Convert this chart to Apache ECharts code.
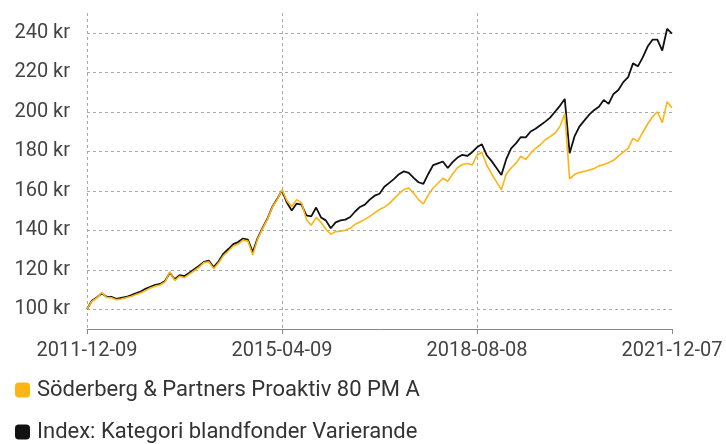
<!DOCTYPE html>
<html>
<head>
<meta charset="utf-8">
<script src="https://cdn.jsdelivr.net/npm/echarts@6/dist/echarts.min.js"></script>
<style>
  html, body { margin: 0; padding: 0; background: #fff; }
  #chart { width: 726px; height: 444px; }
</style>
</head>
<body>
<div id="chart"></div>
<script>
// månadsvisa datum (x-axel)
const dates = [
  '2011-12-09',
  '2012-01-09','2012-02-09','2012-03-09','2012-04-09','2012-05-09','2012-06-09','2012-07-09','2012-08-09','2012-09-09','2012-10-09','2012-11-09','2012-12-09',
  '2013-01-09','2013-02-09','2013-03-09','2013-04-09','2013-05-09','2013-06-09','2013-07-09','2013-08-09','2013-09-09','2013-10-09','2013-11-09','2013-12-09',
  '2014-01-09','2014-02-09','2014-03-09','2014-04-09','2014-05-09','2014-06-09','2014-07-09','2014-08-09','2014-09-09','2014-10-09','2014-11-09','2014-12-09',
  '2015-01-09','2015-02-09','2015-03-09','2015-04-09','2015-05-09','2015-06-09','2015-07-09','2015-08-09','2015-09-09','2015-10-09','2015-11-09','2015-12-09',
  '2016-01-09','2016-02-09','2016-03-09','2016-04-09','2016-05-09','2016-06-09','2016-07-09','2016-08-09','2016-09-09','2016-10-09','2016-11-09','2016-12-09',
  '2017-01-09','2017-02-09','2017-03-09','2017-04-09','2017-05-09','2017-06-09','2017-07-09','2017-08-09','2017-09-09','2017-10-09','2017-11-09','2017-12-09',
  '2018-01-09','2018-02-09','2018-03-09','2018-04-09','2018-05-09','2018-06-09','2018-07-09','2018-08-08','2018-09-09','2018-10-09','2018-11-09','2018-12-09',
  '2019-01-09','2019-02-09','2019-03-09','2019-04-09','2019-05-09','2019-06-09','2019-07-09','2019-08-09','2019-09-09','2019-10-09','2019-11-09','2019-12-09',
  '2020-01-09','2020-02-09','2020-03-09','2020-04-09','2020-05-09','2020-06-09','2020-07-09','2020-08-09','2020-09-09','2020-10-09','2020-11-09','2020-12-09',
  '2021-01-09','2021-02-09','2021-03-09','2021-04-09','2021-05-09','2021-06-09','2021-07-09','2021-08-09','2021-09-09','2021-10-09','2021-11-09','2021-12-07'
]

// Söderberg & Partners Proaktiv 80 PM A
const fundValues = [
  100, 104, 105.7, 108.5, 106, 105.8, 104.8, 105.2, 105.8, 106.5, 107.4, 108.2, 109.5,
  110.8, 111.7, 112.3, 113.8, 119, 114.5, 116.7, 116, 117.8, 119.5, 121.3, 123.6,
  124, 120.5, 123.5, 127.2, 129.5, 132, 133, 135, 134.5, 127.5, 135.5, 140.8,
  145.5, 151.5, 155.5, 160.5, 155, 152, 155.5, 154, 145.5, 142.5, 146.5, 144,
  140.5, 138, 139.3, 139.5, 140, 141, 143, 144.2, 145.5, 147, 148.8, 150.5,
  151.7, 153.5, 156, 158.5, 160.6, 161.4, 158.8, 155.5, 153.3, 157.8, 161.4, 163.8,
  166.3, 164.8, 168.5, 171.7, 173.3, 173.8, 173, 178, 179.5, 173, 168.5, 164.5,
  160.5, 168.5, 171.5, 174, 177.5, 175.8, 179, 181.5, 183.3, 185.8, 187.4, 189.1,
  192.5, 199, 166, 168.2, 169.2, 169.8, 170.5, 171.2, 172.6, 173.3, 174.2, 175.4,
  177.5, 179.5, 181.5, 186.5, 185, 189.5, 193.8, 197.5, 200, 194.5, 205, 202
]

// Index: Kategori blandfonder Varierande
const indexValues = [
  100, 104.3, 106, 108, 106.4, 106.3, 105.3, 105.8, 106.2, 107, 108, 109, 110.3,
  111.3, 112.3, 112.8, 114.3, 118.5, 115.2, 117.3, 116.8, 118.5, 120.3, 122, 124,
  124.6, 121.3, 124.3, 128.2, 130.5, 133, 134, 135.8, 135.3, 129, 136, 141.2,
  145.8, 151.8, 155.8, 160.2, 154, 150, 153.5, 153, 147.5, 147, 151.5, 146.5,
  145, 141, 144, 145, 145.4, 146.7, 149.5, 151.8, 153, 155.5, 157.5, 158.5,
  162, 164, 166, 168.4, 169.8, 169, 166.5, 164.3, 163.5, 168.5, 173, 173.9,
  174.8, 171.5, 174.5, 176.8, 178.2, 177.6, 179.5, 182, 183.5, 178, 175, 171.5,
  168, 176, 181.5, 184, 187.2, 187, 190, 191.4, 193.2, 195, 197, 200,
  203, 206.5, 179, 187.5, 192.5, 195.5, 198.5, 200.8, 202.5, 206, 204, 209,
  211, 215, 217.5, 224.5, 223, 227.5, 233, 236.5, 236.5, 231, 242, 239.5
]

const yTicks = [100, 120, 140, 160, 180, 200, 220, 240]
const xTickLabels = ['2011-12-09', '2015-04-09', '2018-08-08', '2021-12-07']

const fundName = 'Söderberg & Partners Proaktiv 80 PM A'
const indexName = 'Index: Kategori blandfonder Varierande'

const chart = echarts.init(document.getElementById('chart'), null, { renderer: 'canvas' })

const textFont = 'Roboto, "Noto Sans", sans-serif'

// en legend per rad, så att de hamnar under varandra
const legendBase = {
  orient: 'vertical',
  left: 15,
  padding: 0,
  itemWidth: 15,
  itemHeight: 15,
  icon: 'roundRect',
  textStyle: { fontSize: 22, color: '#333', fontFamily: textFont, padding: [0, 0, 0, 2] }
}

const option = {
  animation: false,
  grid: { left: 87, right: 54, top: 13, bottom: 115, containLabel: false },
  legend: [
    { ...legendBase, top: 379, data: [fundName] },
    { ...legendBase, top: 421, data: [indexName] }
  ],
  xAxis: {
    type: 'category',
    data: dates,
    boundaryGap: false,
    axisLine: { lineStyle: { color: '#888', width: 1 } },
    axisTick: {
      alignWithLabel: true,
      length: 5,
      lineStyle: { color: '#888' },
      interval: (i) => i % 40 === 0
    },
    axisLabel: {
      interval: (i) => i % 40 === 0,
      margin: 12,
      fontSize: 20,
      color: '#444',
      fontFamily: textFont,
      formatter: (val) => xTickLabels.includes(val) ? val : ''
    },
    splitLine: {
      show: true,
      interval: (i) => i % 40 === 0 && i < dates.length - 1,
      lineStyle: { color: '#aaa', type: [3, 3], width: 1 }
    }
  },
  yAxis: {
    type: 'value',
    min: 90,
    max: 250,
    axisLine: { show: false },
    axisTick: { show: false, customValues: yTicks },
    axisLabel: {
      customValues: yTicks,
      margin: 17,
      fontSize: 20,
      color: '#444',
      fontFamily: textFont,
      formatter: (v) => v + ' kr'
    },
    splitLine: {
      show: true,
      lineStyle: { color: '#aaa', type: [3, 3], width: 1 }
    }
  },
  series: [
    {
      name: fundName,
      type: 'line',
      data: fundValues,
      symbol: 'none',
      clip: false,
      z: 3,
      itemStyle: { color: '#FDB515' },
      lineStyle: { color: '#FDB515', width: 1.6 }
    },
    {
      name: indexName,
      type: 'line',
      data: indexValues,
      symbol: 'none',
      clip: false,
      z: 2,
      itemStyle: { color: '#111' },
      lineStyle: { color: '#111', width: 1.8 }
    }
  ]
}

chart.setOption(option)

window.addEventListener('resize', () => {
  chart.resize()
})
</script>
</body>
</html>
